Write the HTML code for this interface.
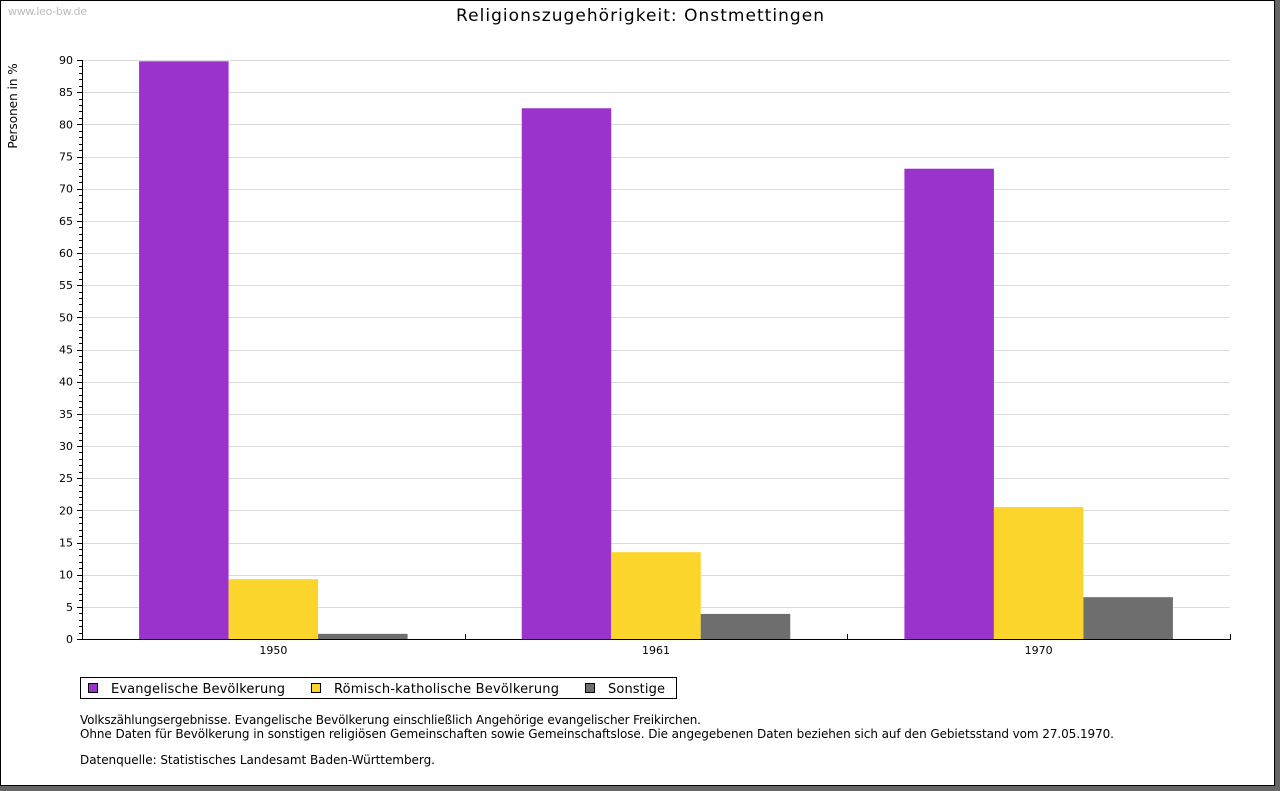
<!DOCTYPE html>
<html><head><meta charset="utf-8"><style>
body{margin:0;background:#666;}
#frame{position:absolute;left:0;top:0;width:1273px;height:784px;background:#fff;border:1px solid #000;}
svg{position:absolute;left:0;top:0;}
text{font-family:"DejaVu Sans","Liberation Sans",sans-serif;}
</style></head><body>
<div id="frame"></div>
<svg id="chart" width="1280" height="791">
<text x="8" y="15" font-size="11" fill="#bbb" textLength="79">www.leo-bw.de</text>
<text x="456" y="21" font-size="17" textLength="368" fill="#000">Religionszugehörigkeit: Onstmettingen</text>
<text transform="translate(17,106) rotate(-90)" font-size="12" text-anchor="middle">Personen in %</text>
<g id="grid"></g><g id="bars"></g><g id="axes"></g>
<g>
<rect x="80.5" y="677.5" width="596" height="21" fill="#fff" stroke="#000"/>
<g><rect x="88.5" y="683.5" width="9" height="9" fill="#9933cc" stroke="#000"/><text x="111" y="693" font-size="13" textLength="174">Evangelische Bevölkerung</text></g>
<g><rect x="311.5" y="683.5" width="9" height="9" fill="#fcd52c" stroke="#000"/><text x="334" y="693" font-size="13" textLength="225">Römisch-katholische Bevölkerung</text></g>
<g><rect x="585.5" y="683.5" width="9" height="9" fill="#6e6e6e" stroke="#000"/><text x="608" y="693" font-size="13" textLength="57">Sonstige</text></g>
</g>
<g font-size="12">
<text x="80" y="724" textLength="621">Volkszählungsergebnisse. Evangelische Bevölkerung einschließlich Angehörige evangelischer Freikirchen.</text>
<text x="80" y="738" textLength="1034">Ohne Daten für Bevölkerung in sonstigen religiösen Gemeinschaften sowie Gemeinschaftslose. Die angegebenen Daten beziehen sich auf den Gebietsstand vom 27.05.1970.</text>
<text x="80" y="764" textLength="355">Datenquelle: Statistisches Landesamt Baden-Württemberg.</text>
</g>
</svg>
<script>
const categories=["1950","1961","1970"];
const evangelisch=[89.8,82.5,73.1];
const katholisch=[9.3,13.5,20.5];
const sonstige=[0.8,3.9,6.5];
const yTicks=[0,5,10,15,20,25,30,35,40,45,50,55,60,65,70,75,80,85,90];
const NS="http://www.w3.org/2000/svg";
const X0=82,X1=1230,Y0=639,Y1=60,YMAX=90;
const y=v=>Y0-(v/YMAX)*(Y0-Y1);
const gw=(X1-X0)/categories.length;
const bw=89.5;
function mk(tag,attrs,parent){const e=document.createElementNS(NS,tag);for(const k in attrs)e.setAttribute(k,attrs[k]);parent.appendChild(e);return e;}
const grid=document.getElementById('grid'),bars=document.getElementById('bars'),axes=document.getElementById('axes');
yTicks.forEach(t=>{
 if(t>0){const l=mk('line',{x1:X0,x2:X1,y1:Math.round(y(t))+0.5,y2:Math.round(y(t))+0.5,stroke:'#dcdcdc'},grid);
 
 }
 const tx=mk('text',{x:73,y:y(t)+4,'font-size':11,'text-anchor':'end'},axes);tx.textContent=t;
 
 
});
for(let v=0;v<=YMAX;v++){const yy=Math.round(y(v))+0.5;mk('line',{x1:v%5==0?X0-5:X0-3,x2:X0,y1:yy,y2:yy,stroke:'#000'},axes);}
mk('line',{x1:X0+0.5,x2:X0+0.5,y1:Y1,y2:Y0,stroke:'#000'},axes);
mk('line',{x1:X0,x2:X1+1,y1:Y0+0.5,y2:Y0+0.5,stroke:'#000'},axes);
for(let i=0;i<=categories.length;i++){const xx=Math.round(X0+i*gw)+0.5;mk('line',{x1:xx,x2:xx,y1:Y0-5,y2:Y0+1,stroke:'#000'},axes);}
const series=[[evangelisch,'#9933cc','evangelisch'],[katholisch,'#fcd52c','katholisch'],[sonstige,'#6e6e6e','sonstige']];
categories.forEach((c,i)=>{
 const cx=X0+gw*(i+0.5);
 const lab=mk('text',{x:cx,y:Y0+15,'font-size':11,'text-anchor':'middle'},axes);lab.textContent=c;
 
 
 series.forEach((s,j)=>{
  const x=cx-1.5*bw+j*bw;
  const r=mk('rect',{x:x,y:y(s[0][i]),width:bw,height:Y0-y(s[0][i]),fill:s[1]},bars);
  
  
 });
});
</script>
</body></html>
